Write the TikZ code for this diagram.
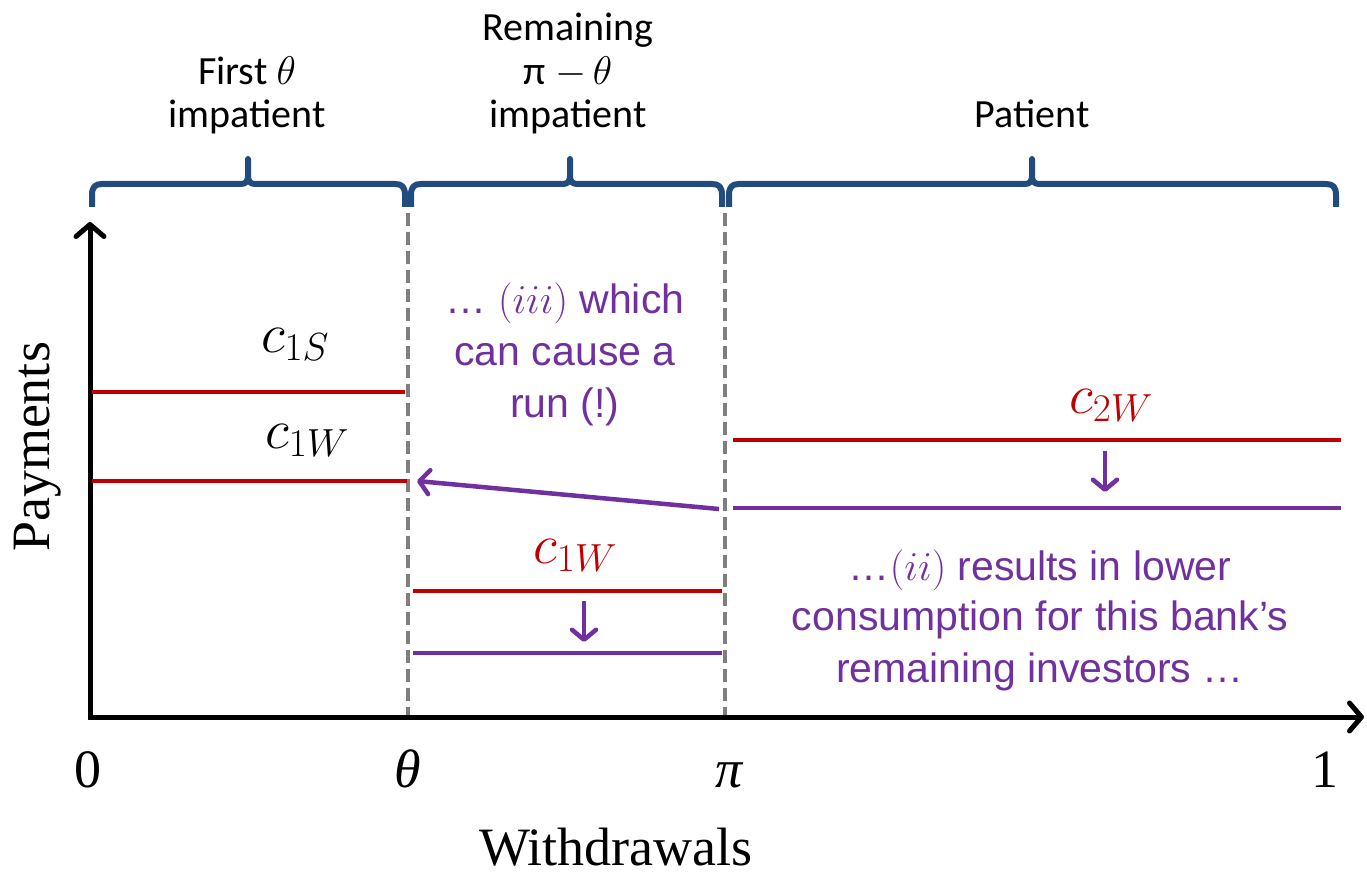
\documentclass[tikz,border=0pt]{standalone}
\usepackage{fix-cm}
\usepackage{fontspec}
\setmainfont{Liberation Serif}
\newfontfamily\arialf{Liberation Sans}
\newfontfamily\calib{Carlito}
\usetikzlibrary{arrows.meta}
\definecolor{myred}{HTML}{C00000}
\definecolor{mypurple}{HTML}{7030A0}
\definecolor{mybrace}{HTML}{224C7E}
\definecolor{mygray}{HTML}{7F7F7F}
\newcommand{\mybr}[3]{\draw[bracestyle] (#1,207) -- (#1,195) .. controls (#1,187) and ({#1+3},184) .. ({#1+10},184) -- ({#2-7},184) .. controls ({#2-2},184) and (#2,181) .. (#2,176) -- (#2,159) -- (#2,176) .. controls (#2,181) and ({#2+2},184) .. ({#2+7},184) -- ({#3-10},184) .. controls ({#3-3},184) and (#3,187) .. (#3,195) -- (#3,207);}
\begin{document}
\begin{tikzpicture}[x=1pt,y=-1pt,
 axis/.style={line width=5pt,-{Straight Barb[length=12pt,width=28pt,round]}},
 guide/.style={mygray,line width=4.5pt,dash pattern=on 13pt off 6pt},
 redline/.style={myred,line width=4.5pt},
 purpline/.style={mypurple,line width=4.5pt},
 parrow/.style={mypurple,line width=4.5pt,-{Straight Barb[length=10pt,width=24pt,round]}},
 bracestyle/.style={mybrace,line width=6pt,line join=round},
 toplabel/.style={font=\calib\fontsize{40}{48}\selectfont,anchor=base,inner sep=0pt},
 note/.style={mypurple,font=\arialf\fontsize{41}{50}\selectfont,anchor=base,inner sep=0pt},
 ticklabel/.style={font=\fontsize{54}{60}\selectfont,anchor=base,inner sep=0pt},
 mathlabel/.style={font=\fontsize{56}{64}\selectfont,anchor=base,inner sep=0pt},
]
\useasboundingbox (0,0) rectangle (1367,877);
% braces
\mybr{92}{248}{405}
\mybr{411}{570}{722}
\mybr{729}{1032}{1336}
% top labels
\node[toplabel] (t1a) at (247,85) {First $\theta$};
\node[toplabel] (t1b) at (247,128) {impatient};
\node[toplabel] (t2a) at (568,41) {Remaining};
\node[toplabel] (t2b) at (568,85) {π $-\,\theta$};
\node[toplabel] (t2c) at (568,128) {impatient};
\node[toplabel] (t3) at (1032,128) {Patient};
% guides
\coordinate (g1t) at (408,213); \coordinate (g1b) at (408,717);
\coordinate (g2t) at (725,213); \coordinate (g2b) at (725,717);
\draw[guide] (g1t) -- (g1b);
\draw[guide] (g2t) -- (g2b);
% axes
\coordinate (O) at (90,719);
\coordinate (ytop) at (90,222);
\coordinate (xo) at (88,717);
\coordinate (xend) at (1364,717);
\draw[axis] (O) -- (ytop);
\draw[axis] (xo) -- (xend);
% payment lines
\coordinate (a1) at (92,392); \coordinate (a2) at (405,392);
\coordinate (b1) at (92,481); \coordinate (b2) at (407,481);
\coordinate (c1) at (413,591); \coordinate (c2) at (722,591);
\coordinate (d1) at (413,653); \coordinate (d2) at (722,653);
\coordinate (e1) at (733,440); \coordinate (e2) at (1341,440);
\coordinate (f1) at (733,508); \coordinate (f2) at (1341,508);
\draw[redline] (a1) -- (a2);
\draw[redline] (b1) -- (b2);
\draw[redline] (c1) -- (c2);
\draw[purpline] (d1) -- (d2);
\draw[redline] (e1) -- (e2);
\draw[purpline] (f1) -- (f2);
% arrows
\coordinate (p1) at (719,509); \coordinate (p2) at (417,481);
\coordinate (q1) at (584,601); \coordinate (q2) at (584,642);
\coordinate (s1) at (1105,451); \coordinate (s2) at (1105,492);
\draw[parrow] (p1) -- (p2);
\draw[parrow] (q1) -- (q2);
\draw[parrow] (s1) -- (s2);
% math labels
\node[mathlabel] (l1) at (295,352) {$c_{1S}$};
\node[mathlabel] (l2) at (307,448) {$c_{1W}$};
\node[mathlabel,text=myred] (l3) at (575,563) {$c_{1W}$};
\node[mathlabel,text=myred] (l4) at (1111,413) {$c_{2W}$};
% notes
\node[note] (n1) at (565,313) {… $(iii)$ which};
\node[note] (n2) at (565,365) {can cause a};
\node[note] (n3) at (565,417) {run (!)};
\node[note] (m1) at (1040,580) {…$(ii)$ results in lower};
\node[note] (m2) at (1040,630) {consumption for this bank’s};
\node[note] (m3) at (1040,682) {remaining investors …};
% ticks
\node[ticklabel] (k0) at (88,787) {0};
\node[ticklabel] (kt) at (408,787) {\textit{θ}};
\node[ticklabel] (kp) at (730,787) {\textit{π}};
\node[ticklabel] (k1) at (1325,787) {1};
\node[ticklabel] (wl) at (616,865) {Withdrawals};
\node[ticklabel,rotate=90] (pl) at (49,447) {Payments};
\end{tikzpicture}
\end{document}
